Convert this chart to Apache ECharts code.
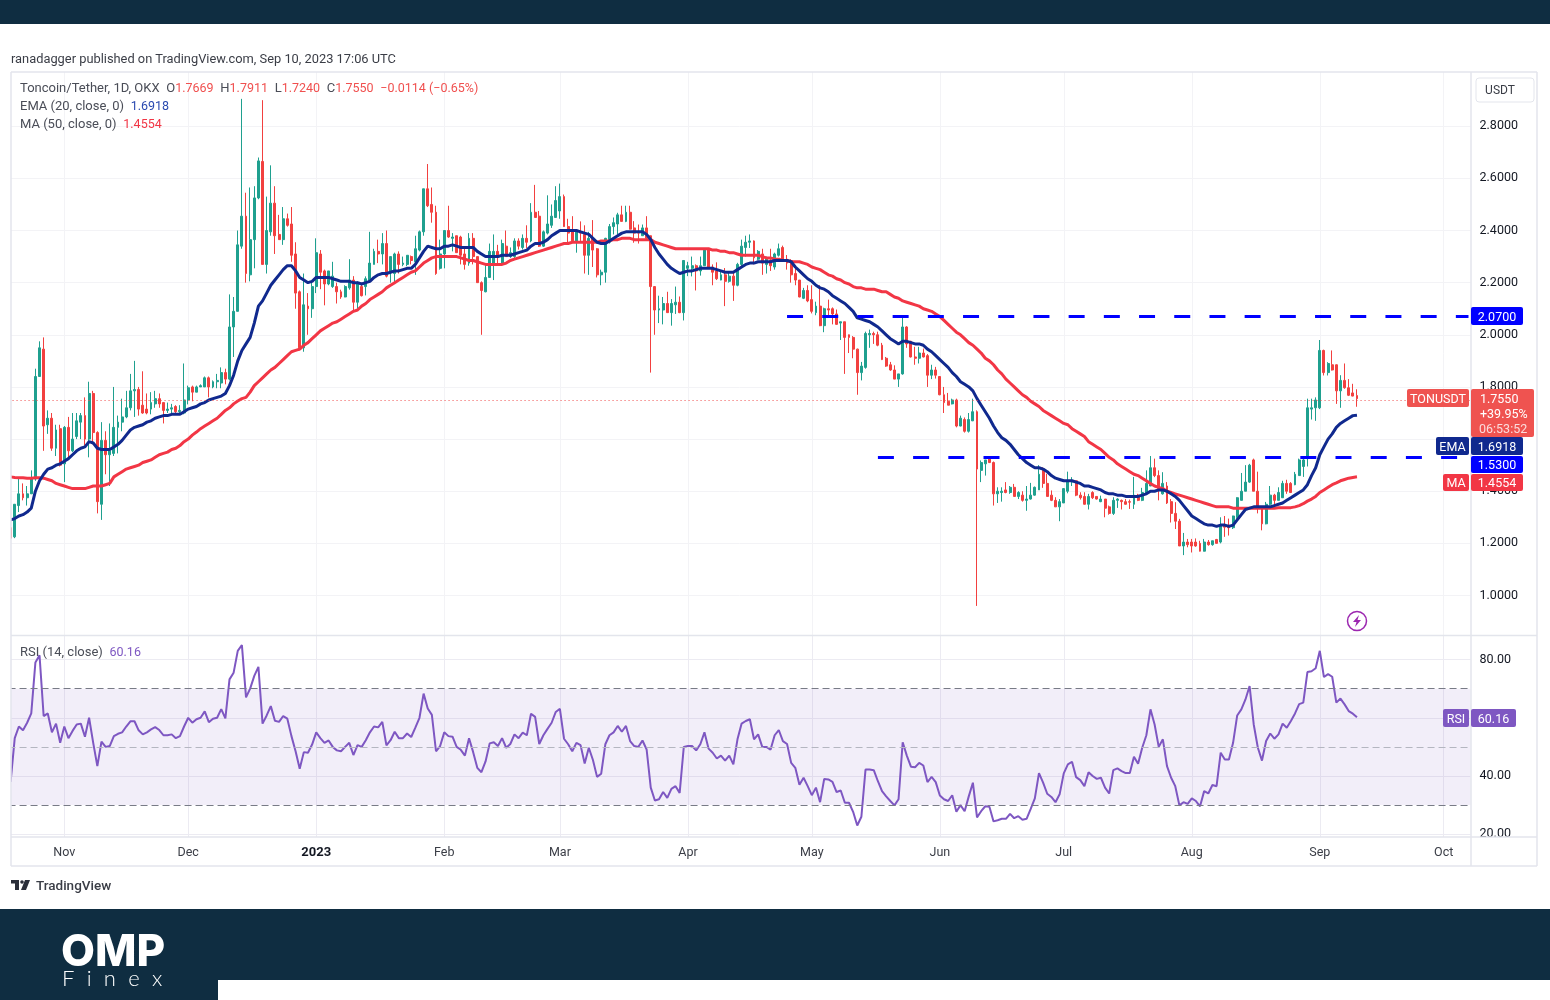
<!DOCTYPE html>
<html lang="en">
<head>
    <meta charset="UTF-8">
    <title>TONUSDT</title>
    <script src="https://cdn.jsdelivr.net/npm/echarts@6/dist/echarts.min.js"></script>
    <style type="text/css">
        html, body { margin: 0; padding: 0; background: #ffffff; }
        #page { position: relative; width: 1550px; height: 1000px; overflow: hidden; }
        #chart { position: absolute; left: 0; top: 0; width: 1550px; height: 1000px; }
        .band { position: absolute; background: #0f2d41; }
        .txt { position: absolute; white-space: nowrap; font-family: Roboto, sans-serif; }
    </style>
</head>
<body>
<div id="page">
    <div id="chart"></div>
    <div class="band" style="left:0;top:0;width:1550px;height:24px;"></div>
    <div class="band" style="left:0;top:909px;width:1550px;height:71px;"></div>
    <div class="band" style="left:0;top:980px;width:218px;height:20px;"></div>
    <div class="txt" style="left:11px;top:51px;font-size:12.85px;color:#3a3d46;">ranadagger published on TradingView.com, Sep 10, 2023 17:06 UTC</div>
    <div class="txt" style="left:36px;top:877px;font-size:13.5px;font-weight:500;color:#3a3d46;">TradingView</div>
    <div class="txt" style="left:61px;top:923px;font-family:Inter,sans-serif;font-size:44px;font-weight:800;letter-spacing:0;color:#ffffff;">OMP</div>
    <div class="txt" style="left:62px;top:964px;font-family:Lato,sans-serif;font-size:22px;font-weight:300;letter-spacing:12.3px;color:#ffffff;">Finex</div>
</div>
<script type="text/javascript">
// [open, high, low, close], one row of ten per line
var ohlc = [
    [1.26,1.27,1.22,1.22],[1.225,1.35,1.22,1.35],[1.345,1.447,1.32,1.39],[1.39,1.43,1.365,1.375],[1.375,1.42,1.345,1.39],[1.39,1.48,1.39,1.447],[1.447,1.87,1.44,1.84],[1.84,1.975,1.84,1.95],[1.945,1.99,1.555,1.65],[1.655,1.71,1.62,1.68],
    [1.68,1.70,1.555,1.565],[1.565,1.655,1.535,1.635],[1.64,1.655,1.495,1.50],[1.505,1.65,1.435,1.645],[1.645,1.685,1.52,1.555],[1.555,1.70,1.55,1.60],[1.61,1.70,1.60,1.67],[1.665,1.70,1.60,1.69],[1.69,1.76,1.575,1.60],[1.60,1.82,1.53,1.775],
    [1.775,1.785,1.58,1.625],[1.625,1.63,1.315,1.36],[1.35,1.665,1.29,1.595],[1.595,1.63,1.465,1.54],[1.54,1.66,1.42,1.555],[1.545,1.80,1.535,1.645],[1.645,1.69,1.545,1.665],[1.665,1.755,1.63,1.685],[1.685,1.785,1.68,1.72],[1.72,1.85,1.71,1.785],
    [1.785,1.90,1.685,1.79],[1.79,1.80,1.69,1.715],[1.73,1.86,1.697,1.70],[1.715,1.775,1.695,1.70],[1.715,1.78,1.695,1.74],[1.735,1.785,1.72,1.755],[1.755,1.775,1.72,1.735],[1.74,1.74,1.66,1.71],[1.71,1.74,1.70,1.715],[1.715,1.735,1.70,1.72],
    [1.725,1.73,1.70,1.705],[1.705,1.73,1.70,1.71],[1.70,1.89,1.695,1.75],[1.75,1.805,1.733,1.797],[1.80,1.805,1.745,1.78],[1.78,1.805,1.78,1.80],[1.80,1.81,1.80,1.805],[1.80,1.84,1.80,1.835],[1.835,1.84,1.76,1.80],[1.80,1.825,1.795,1.82],
    [1.82,1.85,1.795,1.825],[1.815,1.875,1.795,1.855],[1.855,1.87,1.81,1.83],[1.83,2.155,1.825,2.03],[2.03,2.145,1.915,2.09],[2.09,2.40,2.09,2.345],[2.34,2.905,2.33,2.455],[2.455,2.545,2.20,2.235],[2.23,2.565,2.205,2.365],[2.365,2.57,2.255,2.525],
    [2.525,2.68,2.52,2.667],[2.665,2.90,2.27,2.27],[2.27,2.53,2.235,2.40],[2.395,2.65,2.38,2.505],[2.505,2.57,2.31,2.38],[2.385,2.46,2.365,2.365],[2.365,2.49,2.345,2.445],[2.445,2.465,2.415,2.42],[2.425,2.49,2.28,2.305],[2.31,2.355,2.10,2.16],
    [2.165,2.17,1.94,1.95],[1.95,2.235,1.935,2.115],[2.11,2.16,2.00,2.10],[2.10,2.20,2.065,2.185],[2.185,2.37,2.16,2.315],[2.31,2.325,2.175,2.24],[2.245,2.25,2.113,2.195],[2.195,2.245,2.19,2.245],[2.185,2.28,2.18,2.225],[2.185,2.20,2.12,2.165],
    [2.165,2.173,2.138,2.145],[2.145,2.19,2.144,2.185],[2.18,2.29,2.173,2.21],[2.21,2.225,2.09,2.125],[2.125,2.205,2.10,2.195],[2.185,2.20,2.147,2.15],[2.185,2.224,2.151,2.215],[2.205,2.395,2.20,2.275],[2.27,2.33,2.27,2.32],[2.32,2.365,2.275,2.31],
    [2.31,2.39,2.27,2.35],[2.35,2.40,2.22,2.225],[2.24,2.30,2.20,2.30],[2.235,2.315,2.195,2.31],[2.31,2.32,2.235,2.27],[2.27,2.30,2.263,2.275],[2.27,2.305,2.263,2.305],[2.30,2.304,2.27,2.285],[2.28,2.38,2.23,2.33],[2.325,2.40,2.32,2.395],
    [2.395,2.56,2.38,2.56],[2.56,2.655,2.49,2.495],[2.50,2.565,2.43,2.47],[2.47,2.495,2.23,2.235],[2.255,2.365,2.25,2.31],[2.31,2.40,2.255,2.40],[2.40,2.495,2.372,2.375],[2.37,2.39,2.32,2.375],[2.38,2.38,2.315,2.315],[2.375,2.38,2.27,2.305],
    [2.31,2.335,2.25,2.27],[2.275,2.39,2.265,2.37],[2.37,2.39,2.27,2.30],[2.30,2.30,2.20,2.20],[2.20,2.205,2.00,2.17],[2.165,2.275,2.163,2.22],[2.22,2.35,2.218,2.32],[2.27,2.385,2.21,2.32],[2.32,2.345,2.27,2.30],[2.27,2.365,2.265,2.35],
    [2.34,2.40,2.30,2.30],[2.30,2.335,2.295,2.315],[2.30,2.37,2.295,2.36],[2.36,2.37,2.327,2.34],[2.335,2.385,2.327,2.37],[2.37,2.42,2.333,2.355],[2.36,2.505,2.355,2.47],[2.47,2.575,2.45,2.45],[2.455,2.475,2.337,2.34],[2.34,2.40,2.337,2.395],
    [2.39,2.535,2.385,2.425],[2.42,2.50,2.41,2.455],[2.45,2.57,2.449,2.515],[2.475,2.58,2.445,2.53],[2.53,2.538,2.414,2.415],[2.415,2.445,2.35,2.39],[2.395,2.455,2.355,2.36],[2.36,2.40,2.315,2.395],[2.395,2.435,2.36,2.39],[2.385,2.42,2.235,2.305],
    [2.305,2.395,2.23,2.37],[2.37,2.44,2.26,2.325],[2.33,2.333,2.22,2.23],[2.23,2.25,2.19,2.24],[2.24,2.372,2.20,2.37],[2.355,2.425,2.35,2.415],[2.415,2.45,2.385,2.43],[2.425,2.468,2.385,2.46],[2.46,2.495,2.436,2.435],[2.435,2.495,2.432,2.47],
    [2.47,2.495,2.404,2.405],[2.41,2.436,2.353,2.39],[2.395,2.423,2.35,2.39],[2.38,2.423,2.38,2.41],[2.41,2.455,2.372,2.37],[2.38,2.38,1.855,2.185],[2.185,2.187,2.00,2.095],[2.095,2.15,2.045,2.10],[2.095,2.145,2.04,2.12],[2.12,2.165,2.085,2.085],
    [2.085,2.137,2.035,2.12],[2.115,2.185,2.08,2.125],[2.125,2.147,2.083,2.085],[2.085,2.285,2.055,2.285],[2.255,2.28,2.225,2.265],[2.255,2.30,2.224,2.265],[2.265,2.27,2.17,2.245],[2.245,2.30,2.227,2.265],[2.265,2.33,2.265,2.325],[2.33,2.333,2.256,2.26],
    [2.26,2.27,2.19,2.24],[2.245,2.278,2.21,2.215],[2.21,2.244,2.209,2.23],[2.23,2.256,2.11,2.205],[2.205,2.24,2.20,2.225],[2.225,2.244,2.13,2.19],[2.19,2.276,2.186,2.27],[2.27,2.365,2.263,2.34],[2.335,2.38,2.30,2.355],[2.355,2.385,2.333,2.36],
    [2.36,2.362,2.27,2.295],[2.29,2.325,2.287,2.32],[2.31,2.33,2.23,2.275],[2.27,2.30,2.235,2.295],[2.285,2.33,2.245,2.265],[2.26,2.315,2.25,2.31],[2.305,2.35,2.30,2.33],[2.335,2.342,2.285,2.285],[2.29,2.306,2.25,2.275],[2.285,2.29,2.20,2.23],
    [2.235,2.255,2.19,2.21],[2.21,2.21,2.144,2.145],[2.14,2.18,2.137,2.17],[2.17,2.19,2.125,2.13],[2.135,2.19,2.082,2.09],[2.085,2.127,2.075,2.11],[2.11,2.19,2.033,2.035],[2.035,2.104,2.01,2.10],[2.10,2.135,2.07,2.095],[2.10,2.105,2.04,2.08],
    [2.08,2.097,2.038,2.04],[2.045,2.05,1.98,2.05],[2.05,2.05,1.85,1.99],[2.0,2.001,1.93,1.99],[1.99,1.995,1.91,1.945],[1.945,1.947,1.77,1.855],[1.855,1.896,1.825,1.88],[1.875,2.012,1.87,2.005],[2.0,2.02,1.95,2.005],[2.005,2.012,1.965,2.0],
    [2.0,2.012,1.956,1.96],[1.96,1.969,1.903,1.905],[1.91,1.915,1.877,1.88],[1.885,1.896,1.862,1.865],[1.865,1.883,1.83,1.83],[1.83,1.85,1.80,1.85],[1.85,2.07,1.847,2.03],[2.03,2.033,1.95,1.965],[1.975,1.977,1.913,1.915],[1.915,1.954,1.885,1.91],
    [1.91,1.954,1.89,1.93],[1.93,1.947,1.913,1.915],[1.92,1.926,1.80,1.845],[1.845,1.885,1.83,1.865],[1.865,1.877,1.832,1.845],[1.84,1.841,1.768,1.77],[1.77,1.80,1.70,1.74],[1.745,1.777,1.73,1.73],[1.735,1.755,1.733,1.75],[1.75,1.755,1.645,1.65],
    [1.65,1.69,1.649,1.68],[1.675,1.683,1.625,1.63],[1.63,1.70,1.625,1.675],[1.67,1.755,1.669,1.705],[1.705,1.71,0.96,1.485],[1.48,1.518,1.435,1.51],[1.505,1.52,1.46,1.52],[1.525,1.53,1.508,1.51],[1.51,1.514,1.345,1.39],[1.39,1.415,1.355,1.40],
    [1.395,1.415,1.36,1.40],[1.405,1.435,1.392,1.395],[1.395,1.42,1.39,1.415],[1.415,1.428,1.38,1.38],[1.38,1.40,1.37,1.395],[1.385,1.40,1.36,1.365],[1.365,1.42,1.325,1.37],[1.37,1.432,1.368,1.385],[1.385,1.418,1.383,1.415],[1.405,1.50,1.405,1.465],
    [1.485,1.492,1.413,1.43],[1.43,1.467,1.38,1.38],[1.385,1.403,1.362,1.365],[1.365,1.377,1.341,1.34],[1.34,1.37,1.285,1.36],[1.355,1.412,1.355,1.41],[1.40,1.475,1.392,1.44],[1.435,1.454,1.42,1.44],[1.44,1.441,1.381,1.385],[1.385,1.396,1.368,1.375],
    [1.38,1.396,1.349,1.35],[1.35,1.39,1.33,1.38],[1.395,1.40,1.37,1.375],[1.38,1.38,1.368,1.37],[1.36,1.383,1.358,1.37],[1.37,1.37,1.30,1.335],[1.34,1.345,1.31,1.315],[1.315,1.377,1.309,1.365],[1.365,1.373,1.336,1.37],[1.365,1.368,1.33,1.36],
    [1.36,1.37,1.349,1.35],[1.36,1.368,1.332,1.358],[1.35,1.455,1.332,1.385],[1.385,1.39,1.362,1.365],[1.365,1.413,1.362,1.395],[1.39,1.48,1.39,1.43],[1.42,1.535,1.422,1.49],[1.49,1.525,1.454,1.46],[1.46,1.48,1.365,1.41],[1.39,1.473,1.387,1.43],
    [1.42,1.435,1.351,1.355],[1.36,1.37,1.28,1.315],[1.315,1.358,1.255,1.285],[1.285,1.294,1.19,1.19],[1.19,1.24,1.155,1.205],[1.205,1.217,1.185,1.195],[1.205,1.217,1.165,1.19],[1.205,1.219,1.187,1.19],[1.20,1.21,1.169,1.17],[1.17,1.217,1.169,1.205],
    [1.205,1.213,1.191,1.195],[1.195,1.21,1.191,1.21],[1.215,1.217,1.20,1.20],[1.205,1.30,1.20,1.27],[1.27,1.305,1.225,1.262],[1.27,1.295,1.23,1.26],[1.26,1.306,1.255,1.305],[1.30,1.377,1.294,1.375],[1.365,1.47,1.365,1.40],[1.40,1.50,1.40,1.435],
    [1.435,1.505,1.432,1.50],[1.52,1.525,1.40,1.40],[1.40,1.475,1.315,1.335],[1.335,1.34,1.25,1.275],[1.275,1.359,1.273,1.35],[1.35,1.42,1.346,1.385],[1.385,1.39,1.34,1.365],[1.365,1.415,1.365,1.395],[1.375,1.44,1.375,1.43],[1.43,1.444,1.39,1.40],
    [1.43,1.435,1.393,1.395],[1.425,1.474,1.423,1.465],[1.46,1.525,1.46,1.52],[1.495,1.53,1.455,1.52],[1.525,1.755,1.495,1.72],[1.715,1.755,1.675,1.72],[1.72,1.76,1.67,1.75],[1.72,1.98,1.715,1.94],[1.94,1.943,1.844,1.855],[1.855,1.895,1.844,1.89],
    [1.885,1.94,1.863,1.865],[1.885,1.886,1.735,1.785],[1.785,1.845,1.72,1.825],[1.825,1.89,1.793,1.797],[1.797,1.83,1.765,1.768],[1.777,1.812,1.764,1.765],[1.7669,1.7911,1.7240,1.7550]
];
var ema20 = [
    1.29,1.295,1.305,1.31,1.32,1.335,1.40,1.44,1.465,1.485,
    1.49,1.50,1.505,1.515,1.525,1.54,1.555,1.565,1.57,1.59,
    1.585,1.565,1.56,1.56,1.56,1.57,1.58,1.595,1.615,1.635,
    1.645,1.65,1.655,1.665,1.67,1.68,1.685,1.69,1.69,1.695,
    1.695,1.695,1.705,1.715,1.72,1.725,1.735,1.74,1.75,1.755,
    1.76,1.765,1.775,1.805,1.845,1.90,1.94,1.965,1.99,2.045,
    2.11,2.13,2.16,2.19,2.21,2.23,2.25,2.265,2.265,2.245,
    2.22,2.21,2.20,2.205,2.22,2.22,2.22,2.22,2.215,2.21,
    2.205,2.205,2.205,2.20,2.20,2.195,2.20,2.205,2.22,2.23,
    2.235,2.235,2.24,2.245,2.245,2.25,2.255,2.255,2.27,2.295,
    2.32,2.34,2.335,2.33,2.33,2.34,2.34,2.345,2.34,2.335,
    2.335,2.335,2.335,2.32,2.31,2.30,2.30,2.30,2.30,2.305,
    2.305,2.305,2.31,2.315,2.32,2.325,2.34,2.35,2.35,2.355,
    2.365,2.38,2.39,2.40,2.40,2.40,2.40,2.40,2.395,2.39,
    2.385,2.37,2.355,2.35,2.35,2.36,2.37,2.38,2.39,2.395,
    2.395,2.395,2.395,2.395,2.385,2.365,2.335,2.31,2.29,2.27,
    2.255,2.245,2.235,2.24,2.245,2.245,2.25,2.255,2.255,2.255,
    2.255,2.25,2.245,2.24,2.24,2.24,2.25,2.26,2.27,2.275,
    2.275,2.28,2.28,2.28,2.28,2.285,2.285,2.285,2.285,2.28,
    2.26,2.245,2.23,2.215,2.205,2.19,2.18,2.175,2.165,2.15,
    2.14,2.13,2.12,2.105,2.09,2.065,2.06,2.055,2.05,2.04,
    2.03,2.015,2.0,1.985,1.975,1.965,1.975,1.975,1.97,1.965,
    1.965,1.96,1.945,1.935,1.92,1.905,1.89,1.875,1.855,1.84,
    1.82,1.81,1.80,1.785,1.755,1.73,1.705,1.68,1.65,1.625,
    1.605,1.595,1.58,1.56,1.54,1.525,1.51,1.50,1.49,1.49,
    1.485,1.475,1.46,1.45,1.445,1.44,1.44,1.44,1.435,1.43,
    1.42,1.42,1.415,1.41,1.405,1.395,1.39,1.39,1.385,1.385,
    1.38,1.38,1.38,1.38,1.385,1.39,1.40,1.40,1.405,1.405,
    1.40,1.39,1.38,1.365,1.345,1.325,1.305,1.295,1.285,1.275,
    1.27,1.27,1.265,1.27,1.27,1.265,1.27,1.29,1.31,1.33,
    1.335,1.34,1.34,1.34,1.34,1.34,1.345,1.35,1.355,1.365,
    1.375,1.385,1.395,1.405,1.425,1.46,1.49,1.54,1.57,1.60,
    1.62,1.645,1.66,1.67,1.68,1.69,1.6918
];
var ma50 = [
    1.455,1.453,1.452,1.452,1.45,1.45,1.452,1.452,1.45,1.445,
    1.44,1.43,1.425,1.42,1.415,1.41,1.41,1.41,1.41,1.415,
    1.42,1.42,1.42,1.425,1.43,1.455,1.465,1.475,1.485,1.49,
    1.495,1.50,1.51,1.515,1.52,1.53,1.54,1.545,1.55,1.56,
    1.565,1.575,1.59,1.60,1.615,1.627,1.64,1.65,1.66,1.67,
    1.68,1.695,1.71,1.72,1.735,1.746,1.755,1.76,1.78,1.805,
    1.82,1.835,1.85,1.865,1.875,1.89,1.905,1.92,1.935,1.94,
    1.945,1.96,1.97,1.985,2.0,2.015,2.025,2.035,2.045,2.05,
    2.06,2.07,2.08,2.09,2.095,2.11,2.12,2.135,2.145,2.155,
    2.165,2.18,2.19,2.20,2.21,2.22,2.23,2.24,2.245,2.26,
    2.275,2.285,2.295,2.30,2.30,2.30,2.30,2.30,2.30,2.295,
    2.29,2.285,2.285,2.28,2.275,2.27,2.27,2.27,2.27,2.27,
    2.275,2.285,2.29,2.295,2.30,2.305,2.31,2.315,2.32,2.325,
    2.33,2.335,2.34,2.345,2.35,2.35,2.355,2.355,2.355,2.355,
    2.355,2.355,2.355,2.36,2.36,2.36,2.365,2.365,2.37,2.37,
    2.37,2.365,2.365,2.365,2.365,2.365,2.355,2.35,2.345,2.34,
    2.335,2.33,2.33,2.33,2.33,2.33,2.33,2.33,2.33,2.33,
    2.325,2.325,2.32,2.32,2.315,2.315,2.31,2.305,2.305,2.305,
    2.305,2.305,2.30,2.295,2.295,2.29,2.29,2.285,2.285,2.28,
    2.28,2.28,2.275,2.27,2.26,2.255,2.25,2.24,2.23,2.225,
    2.215,2.21,2.20,2.195,2.185,2.18,2.18,2.175,2.175,2.175,
    2.17,2.165,2.165,2.155,2.145,2.14,2.13,2.125,2.12,2.115,
    2.11,2.10,2.095,2.09,2.08,2.07,2.055,2.04,2.025,2.01,
    2.0,1.985,1.97,1.96,1.945,1.93,1.91,1.90,1.885,1.865,
    1.85,1.83,1.815,1.80,1.785,1.77,1.76,1.745,1.735,1.725,
    1.71,1.70,1.69,1.68,1.67,1.66,1.655,1.64,1.63,1.62,
    1.61,1.59,1.58,1.57,1.56,1.545,1.53,1.52,1.505,1.495,
    1.485,1.475,1.465,1.46,1.45,1.44,1.43,1.42,1.415,1.41,
    1.40,1.395,1.39,1.385,1.38,1.375,1.37,1.365,1.36,1.355,
    1.35,1.345,1.34,1.34,1.34,1.34,1.335,1.335,1.335,1.335,
    1.335,1.335,1.335,1.335,1.335,1.335,1.335,1.337,1.337,1.337,
    1.337,1.34,1.345,1.352,1.362,1.37,1.38,1.395,1.405,1.415,
    1.425,1.432,1.44,1.445,1.45,1.453,1.4554
];
var rsi14 = [
    38,53,57,55.7,58.3,61.5,79,81.5,60.6,61.5,
    55,58,51.4,57,53,55.5,57.7,58,53.5,60,
    51.4,43.4,51.8,50,50.3,53.7,54.5,55,57,58.8,
    58.8,55.7,54.3,55,56,56.8,55.8,54,54,54.3,
    53,53.7,57,60,58.3,59.5,60,62.2,58.5,59.7,
    60,63,59.8,73.2,75.5,83,85,67,70,74.4,
    77.5,58,60.8,64,59,58.6,60.6,59.7,53.7,48.5,
    42.5,48.2,48,50.8,55,53,51.4,52.2,50,48.8,
    48.5,50,51.4,47.2,50.6,50,52.3,55,57,56.7,
    58.6,50.5,52.3,55.2,53,53,54.6,53.4,56.6,60,
    68.3,63.2,61,48.5,50.3,55,53.7,53.5,50,49,
    47,53,48.2,42.8,41.3,45,51.2,51.6,50.3,53,
    49.7,51,54.3,53,54.9,54,61.4,60.3,51,54,
    56.2,58.3,62,63.1,52.8,50.9,48.5,51.4,50.6,44.3,
    49.7,45.5,39.7,40.8,50.9,54,55,57.2,55.2,57.2,
    52,50.3,50,52.2,49.1,36,31.6,32,34.5,32.5,
    35.6,36.5,34.2,50,50.3,50.3,48.8,50.9,55,49.4,
    48,46,47,45.3,47,44,52.6,58,58.9,59.5,
    52.6,54.3,50,50,49,54,55.8,52,51,44.5,
    42.8,37,39.4,36.5,33.4,36,31,39,38.8,38,
    34.5,35,30.8,30.8,27.7,23,26,42.2,42.2,42,
    38.2,34.8,33,31.4,29.9,32,51.6,47,43.2,43,
    44.5,43.6,37.9,39.7,37.9,33.3,32,31.4,33.4,27.7,
    30,27.9,33,37.7,25.8,27.9,29.6,29.4,24.4,24.8,
    25.3,25.3,27,25.5,26.2,25,25.3,28.7,32.3,41,
    37.7,33.9,32.8,31,33.7,40.9,44,44.9,39.6,38.6,
    36.5,41.3,40,39,39.4,36,34,42,42.6,41.7,
    41,41,46.6,44.2,49.7,54,62.9,57.7,50,52.6,
    43.4,39.4,36.5,29.9,31,30.4,32.3,31.4,29.6,34.8,
    34,36.9,36.5,48,45.7,45.7,51.4,60.8,62.9,66.3,
    70.9,57.7,49.7,45.3,52,54.6,52.8,54.3,58,56.6,
    58.9,61.5,64.7,65.2,75.7,76,77,83,74,75,
    74.1,65.2,66.6,64.6,62.3,61.4,60.16
];
var priceTicks = [1.0,1.2,1.4,1.6,1.8,2.0,2.2,2.4,2.6,2.8];
var rsiTicks = [20,40,60,80];
var monthLabels = {
    '2022-11-01':'Nov','2022-12-01':'Dec','2023-01-01':'2023','2023-02-01':'Feb','2023-03-01':'Mar','2023-04-01':'Apr',
    '2023-05-01':'May','2023-06-01':'Jun','2023-07-01':'Jul','2023-08-01':'Aug','2023-09-01':'Sep','2023-10-01':'Oct'
};
var resistance = 2.07, support = 1.53, lastClose = 1.755;

// daily categories, the axis runs on past the last candle up to the price scale
var dates = [];
for (var i = 0; i < 354; i++) {
    dates.push(new Date(Date.UTC(2022, 9, 19 + i)).toISOString().slice(0, 10));
}
var isMonthStart = function (idx) { return monthLabels[dates[idx]] !== undefined; };

// echarts wants open, close, low, high
var candles = ohlc.map(function (r) { return [r[0], r[3], r[2], r[1]]; });

var FONT = 'Roboto, sans-serif';
var RED = '#f23645', GREEN = '#1fa08f', NAVY = '#10298e', BLUE = '#0000ff', PURPLE = '#7e57c2';
var gridLine = {show: true, lineStyle: {color: '#f3f3f6', width: 1}};

function lineOf(x1, y1, x2, y2) {
    return {type: 'line', z: 50, silent: true, shape: {x1: x1, y1: y1, x2: x2, y2: y2}, style: {stroke: '#e3e5ec', lineWidth: 1.5}};
}
function box(x, y, w, h, fill) {
    return {type: 'rect', z: 60, silent: true, shape: {x: x, y: y, width: w, height: h, r: 2}, style: {fill: fill}};
}
function label(x, y, text, color, size, align) {
    return {type: 'text', z: 61, silent: true, x: x, y: y + 1.5, style: {text: text, fill: color, font: (size || 12.5) + 'px ' + FONT, align: align || 'center', verticalAlign: 'middle'}};
}
function tag(x, y, w, h, fill, text) {
    return [box(x, y, w, h, fill), label(x + w / 2, y + h / 2, text, '#ffffff')];
}

var legendRich = {
    n: {fill: '#4a4d57', font: '13px ' + FONT},
    v: {fill: '#f0504f', font: '12.5px ' + FONT}
};
var overlay = [
    {type: 'rect', z: 49, silent: true, shape: {x: 0, y: 60, width: 11, height: 810}, style: {fill: '#ffffff'}},
    {type: 'rect', z: 49, silent: true, shape: {x: 1472, y: 838, width: 64, height: 27}, style: {fill: '#ffffff'}},
    lineOf(11, 72, 1537, 72), lineOf(11, 72, 11, 866), lineOf(1537, 72, 1537, 866), lineOf(11, 866, 1537, 866),
    lineOf(1471, 72, 1471, 866), lineOf(11, 635.5, 1537, 635.5), lineOf(11, 837, 1537, 837),
    {type: 'rect', z: 60, silent: true, shape: {x: 1476, y: 78, width: 58, height: 24, r: 3}, style: {fill: '#ffffff', stroke: '#e3e5ec', lineWidth: 1}},
    label(1500, 89, 'USDT', '#3a3d46', 12),
    {type: 'text', z: 61, silent: true, x: 20, y: 88.5, style: {
        text: '{n|Toncoin/Tether, 1D, OKX}  {n|O}{v|1.7669}  {n|H}{v|1.7911}  {n|L}{v|1.7240}  {n|C}{v|1.7550}  {v|\u22120.0114 (\u22120.65%)}',
        rich: legendRich, verticalAlign: 'middle'}},
    {type: 'text', z: 61, silent: true, x: 20, y: 106.5, style: {
        text: '{n|EMA (20, close, 0)}  {e|1.6918}',
        rich: {n: legendRich.n, e: {fill: '#2a4ab0', font: '12.5px ' + FONT}}, verticalAlign: 'middle'}},
    {type: 'text', z: 61, silent: true, x: 20, y: 124.5, style: {
        text: '{n|MA (50, close, 0)}  {m|1.4554}',
        rich: {n: legendRich.n, m: {fill: RED, font: '12.5px ' + FONT}}, verticalAlign: 'middle'}},
    {type: 'text', z: 61, silent: true, x: 20, y: 652.5, style: {
        text: '{n|RSI (14, close)}  {r|60.16}',
        rich: {n: legendRich.n, r: {fill: PURPLE, font: '12.5px ' + FONT}}, verticalAlign: 'middle'}},
    // lightning badge
    {type: 'circle', z: 60, silent: true, shape: {cx: 1357, cy: 621, r: 9.5}, style: {fill: '#ffffff', stroke: '#9c27b0', lineWidth: 1.5}},
    {type: 'polygon', z: 61, silent: true, shape: {points: [[1359, 615], [1353, 622], [1356.5, 622], [1355, 627], [1361, 620], [1357.5, 620]]}, style: {fill: '#9c27b0'}},
    // TradingView mark
    {type: 'rect', z: 60, silent: true, shape: {x: 11, y: 880, width: 8, height: 3.5}, style: {fill: '#2a2e39'}},
    {type: 'rect', z: 60, silent: true, shape: {x: 15, y: 880, width: 4, height: 10}, style: {fill: '#2a2e39'}},
    {type: 'circle', z: 60, silent: true, shape: {cx: 22, cy: 882, r: 1.8}, style: {fill: '#2a2e39'}},
    {type: 'polygon', z: 60, silent: true, shape: {points: [[25, 880], [30, 880], [26, 890], [21, 890]]}, style: {fill: '#2a2e39'}}
]
    .concat(tag(1471, 307, 52, 18, BLUE, '2.0700'))
    .concat(tag(1407, 389, 62, 18, '#ef5350', 'TONUSDT'))
    .concat([box(1471, 389, 63, 48, '#ef5350'),
        label(1480, 398, '1.7550', '#ffffff', 12.5, 'left'), label(1480, 413, '+39.95%', '#ffffff', 12.5, 'left'), label(1479, 428, '06:53:52', '#fbdcdc', 12.5, 'left')])
    .concat(tag(1436, 437, 33, 18, NAVY, 'EMA'))
    .concat(tag(1471, 437, 52, 18, NAVY, '1.6918'))
    .concat(tag(1471, 456, 52, 17, BLUE, '1.5300'))
    .concat(tag(1443, 474, 26, 17, RED, 'MA'))
    .concat(tag(1471, 474, 52, 17, RED, '1.4554'))
    .concat(tag(1443, 709, 26, 18, PURPLE, 'RSI'))
    .concat(tag(1471, 709, 45, 18, PURPLE, '60.16'));

var option = {
    animation: false,
    backgroundColor: 'transparent',
    grid: [
        {left: 8.55, width: 1462, top: 72, height: 563.5},
        {left: 8.55, width: 1462, top: 636, height: 201}
    ],
    xAxis: [
        {type: 'category', gridIndex: 0, data: dates, axisLine: {show: false}, axisTick: {show: false}, axisLabel: {show: false, interval: isMonthStart},
            splitLine: {show: true, alignWithLabel: true, interval: isMonthStart, lineStyle: gridLine.lineStyle}},
        {type: 'category', gridIndex: 1, data: dates, axisLine: {show: false}, axisTick: {show: false},
            splitLine: {show: true, alignWithLabel: true, interval: isMonthStart, lineStyle: {color: '#ecebf2', width: 1}},
            axisLabel: {interval: isMonthStart, margin: 9, color: '#3a3d46', fontFamily: FONT, fontSize: 12.5,
                formatter: function (v) {
                    var t = monthLabels[v];
                    return t === '2023' ? '{y|2023}' : (t || '');
                },
                rich: {y: {fontWeight: 'bold', fontFamily: FONT, fontSize: 13, color: '#131722'}}}}
    ],
    yAxis: [
        {type: 'value', gridIndex: 0, position: 'right', min: 0.8466, max: 3.008, scale: true,
            axisLine: {show: false}, axisTick: {show: false, customValues: priceTicks}, splitLine: gridLine,
            axisLabel: {customValues: priceTicks, margin: 9, padding: [4, 0, 0, 0], color: '#131722', fontFamily: FONT, fontSize: 12.5,
                formatter: function (v) { return v.toFixed(4); }}},
        {type: 'value', gridIndex: 1, position: 'right', min: 19.04, max: 88.1, scale: true,
            axisLine: {show: false}, axisTick: {show: false, customValues: rsiTicks},
            splitLine: {show: true, lineStyle: {color: '#ecebf2', width: 1}},
            axisLabel: {customValues: rsiTicks, margin: 9, padding: [4, 0, 0, 0], color: '#131722', fontFamily: FONT, fontSize: 12.5,
                formatter: function (v) { return v.toFixed(2); }}}
    ],
    series: [
        {name: 'TONUSDT', type: 'candlestick', xAxisIndex: 0, yAxisIndex: 0, data: candles, barWidth: 2.4, z: 2,
            itemStyle: {color: GREEN, color0: '#f2403f', borderColor: GREEN, borderColor0: '#f2403f', borderWidth: 1},
            markLine: {silent: true, symbol: 'none', label: {show: false},
                data: [
                    [{coord: [dates[188], resistance], lineStyle: {color: BLUE, width: 3, type: [16, 19.2]}}, {coord: [dates[353], resistance]}],
                    [{coord: [dates[210], support], lineStyle: {color: BLUE, width: 3, type: [16, 19.2]}}, {coord: [dates[353], support]}],
                    {yAxis: lastClose, lineStyle: {color: '#f0504f', width: 1, type: [1, 3]}}
                ]}},
        {name: 'EMA 20', type: 'line', xAxisIndex: 0, yAxisIndex: 0, data: ema20, showSymbol: false, z: 4,
            lineStyle: {color: NAVY, width: 3}},
        {name: 'MA 50', type: 'line', xAxisIndex: 0, yAxisIndex: 0, data: ma50, showSymbol: false, z: 3,
            lineStyle: {color: RED, width: 3}},
        {name: 'RSI 14', type: 'line', xAxisIndex: 1, yAxisIndex: 1, data: rsi14, showSymbol: false, z: 4,
            lineStyle: {color: PURPLE, width: 2},
            markArea: {silent: true, itemStyle: {color: 'rgba(126,87,194,0.1)'}, data: [[{yAxis: 70}, {yAxis: 30}]]},
            markLine: {silent: true, symbol: 'none', label: {show: false},
                data: [
                    {yAxis: 70, lineStyle: {color: '#787b86', width: 1, type: [7, 4]}},
                    {yAxis: 50, lineStyle: {color: '#b4b6c0', width: 1, type: [7, 4]}},
                    {yAxis: 30, lineStyle: {color: '#787b86', width: 1, type: [7, 4]}}
                ]}}
    ],
    graphic: {elements: overlay}
};

var chart = echarts.init(document.getElementById('chart'));
chart.setOption(option);
</script>
</body>
</html>
